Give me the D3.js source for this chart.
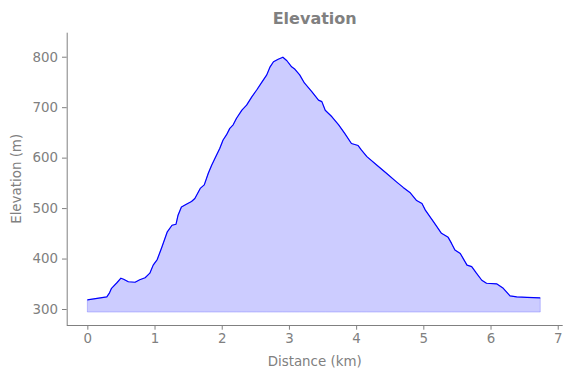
<!DOCTYPE html>
<html><head><meta charset="utf-8">
<script src="https://cdn.jsdelivr.net/npm/d3@7"></script>
<style>body{margin:0;background:#fff}svg{display:block}text{font-family:"DejaVu Sans",sans-serif}</style>
</head><body>
<script>
const distance = [0.00,0.29,0.33,0.36,0.44,0.50,0.54,0.61,0.71,0.78,0.86,0.93,0.98,1.04,1.11,1.19,1.26,1.32,1.35,1.40,1.48,1.55,1.60,1.68,1.74,1.80,1.85,1.90,1.97,2.02,2.07,2.12,2.17,2.22,2.30,2.37,2.45,2.52,2.60,2.67,2.72,2.77,2.84,2.91,2.97,3.04,3.09,3.16,3.23,3.34,3.44,3.49,3.54,3.64,3.74,3.83,3.93,4.03,4.08,4.16,4.31,4.46,4.60,4.70,4.80,4.90,4.98,5.03,5.15,5.27,5.37,5.42,5.47,5.55,5.65,5.72,5.79,5.87,5.94,6.09,6.19,6.29,6.39,6.54,6.74];
const elevation = [318,324,332,341,352,361,359,354,353,358,362,371,387,398,423,453,466,468,486,502,508,513,519,539,546,569,585,599,618,635,645,658,665,678,694,704,721,734,750,764,780,790,795,799,792,780,775,764,748,731,714,711,694,681,665,648,628,624,615,602,585,568,552,541,531,515,509,496,473,450,442,430,417,410,387,384,371,357,351,350,341,326,324,323,322];
const baseline = 294;
const xTicks = [0,1,2,3,4,5,6,7];
const yTicks = [300,400,500,600,700,800];
const title = "Elevation", xLabel = "Distance (km)", yLabel = "Elevation (m)";

const W = 571, H = 378;
const L = 66.7, R = 562.7, T = 32.7, B = 325;
const x = d3.scaleLinear().domain([-0.307, 7.074]).range([L, R]);
const y = d3.scaleLinear().domain([268.3, 847.6]).range([B, T]);
const grey = "#808080";

const svg = d3.select("body").append("svg").attr("width", W).attr("height", H);
const data = distance.map((d, i) => ({d, e: elevation[i]}));

svg.append("path").datum(data)
  .attr("d", d3.area().x(p => x(p.d)).y0(y(baseline)).y1(p => y(p.e)))
  .attr("fill", "rgba(0,0,255,0.2)").attr("stroke", "rgba(0,0,255,0.2)").attr("stroke-width", 1);
svg.append("path").datum(data)
  .attr("d", d3.line().x(p => x(p.d)).y(p => y(p.e)))
  .attr("fill", "none").attr("stroke", "#0000ff").attr("stroke-width", 1.2).attr("stroke-linejoin", "round");

const gx = svg.append("g").attr("transform", `translate(0,${B})`)
  .call(d3.axisBottom(x).tickValues(xTicks).tickFormat(d3.format("d")).tickSizeOuter(0).tickSize(4.7).tickPadding(4));
const gy = svg.append("g").attr("transform", `translate(${L},0)`)
  .call(d3.axisLeft(y).tickValues(yTicks).tickFormat(d3.format("d")).tickSizeOuter(0).tickSize(4.7).tickPadding(4));
[gx, gy].forEach(g => {
  g.select(".domain").attr("stroke", grey).attr("stroke-width", 1);
  g.selectAll(".tick line").attr("stroke", grey).attr("stroke-width", 1);
  g.selectAll(".tick text").attr("fill", grey).attr("font-size", 13.4).attr("font-family", "DejaVu Sans");
});
gy.select(".domain").attr("d", `M0.5,${B}V${T}`);
gx.select(".domain").attr("d", `M${L},0.5H${R}`);

svg.append("text").attr("x", (L + R) / 2).attr("y", 24).attr("text-anchor", "middle")
  .attr("font-size", 16).attr("font-weight", "bold").attr("fill", grey).text(title);
svg.append("text").attr("x", (L + R) / 2).attr("y", 365.5).attr("text-anchor", "middle")
  .attr("font-size", 13.4).attr("fill", grey).text(xLabel);
svg.append("text").attr("transform", `translate(21,${(T + B) / 2}) rotate(-90)`).attr("text-anchor", "middle")
  .attr("font-size", 13.4).attr("fill", grey).text(yLabel);
</script>
</body></html>
